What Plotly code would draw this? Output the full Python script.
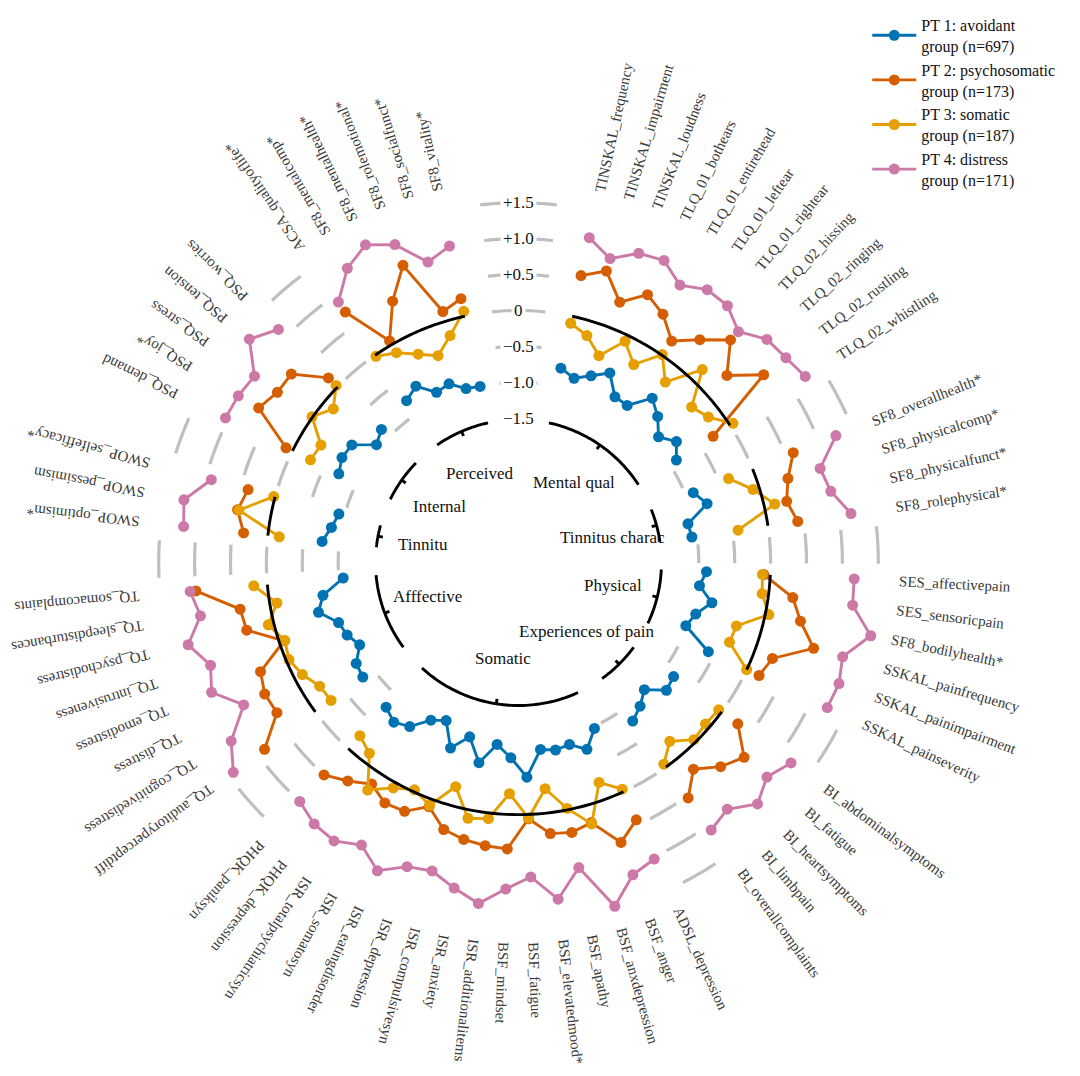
import numpy as np
import plotly.graph_objects as go

FONT = "Liberation Serif, Times New Roman, serif"

# domains clockwise from the top, with their variables
group_names = ["Tinnitus characteristics", "Physical quality of life", "Experiences of pain",
               "Somatic symptoms", "Affective symptoms", "Tinnitus distress",
               "Internal resources", "Perceived stress", "Mental quality of life"]
# inner labels exactly as printed in the original (they sit one domain off)
inner_labels = ["Mental qual", "Tinnitus charac", "Physical", "Experiences of pain",
                "Somatic", "Afffective", "Tinnitu", "Internal", "Perceived"]
group_vars = [
    ["TINSKAL_frequency", "TINSKAL_impairment", "TINSKAL_loudness", "TLQ_01_bothears",
     "TLQ_01_entirehead", "TLQ_01_leftear", "TLQ_01_rightear", "TLQ_02_hissing",
     "TLQ_02_ringing", "TLQ_02_rustling", "TLQ_02_whistling"],
    ["SF8_overallhealth*", "SF8_physicalcomp*", "SF8_physicalfunct*", "SF8_rolephysical*"],
    ["SES_affectivepain", "SES_sensoricpain", "SF8_bodilyhealth*", "SSKAL_painfrequency",
     "SSKAL_painimpairment", "SSKAL_painseverity"],
    ["BI_abdominalsymptoms", "BI_fatigue", "BI_heartsymptoms", "BI_limbpain",
     "BI_overallcomplaints"],
    ["ADSL_depression", "BSF_anger", "BSF_anxdepression", "BSF_apathy", "BSF_elevatedmood*",
     "BSF_fatigue", "BSF_mindset", "ISR_additionalitems", "ISR_anxiety", "ISR_compulsivesyn",
     "ISR_depression", "ISR_eatingdisorder", "ISR_somatosyn", "ISR_totalpsychiatricsyn",
     "PHQK_depression", "PHQK_paniksyn"],
    ["TQ_auditoryperceptdiff", "TQ_cognitivedistress", "TQ_distress", "TQ_emodistress",
     "TQ_intrusiveness", "TQ_psychodistress", "TQ_sleepdisturbances", "TQ_somacomplaints"],
    ["SWOP_optimism*", "SWOP_pessimism", "SWOP_selfefficacy*"],
    ["PSQ_demand", "PSQ_joy*", "PSQ_stress", "PSQ_tension", "PSQ_worries"],
    ["ACSA_qualityoflife*", "SF8_mentalcomp*", "SF8_mentalhealth*", "SF8_rolemotional*",
     "SF8_socialfunct*", "SF8_vitality*"],
]

pt_names = ["PT 1: avoidant<br>group (n=697)", "PT 2: psychosomatic<br>group (n=173)",
            "PT 3: somatic<br>group (n=187)", "PT 4: distress<br>group (n=171)"]
pt_colors = ["#0072B2", "#D55E00", "#E69F00", "#CC79A7"]

# mean z-scores, same order as group_vars
pt1 = [-0.74, -0.83, -0.72, -0.58, -0.84, -0.85, -0.56, -0.70, -0.89, -0.74, -0.89,
       -0.89, -0.76, -1.09, -1.07,
       -0.89, -0.97, -0.76, -0.94, -1.02, -0.59,
       -0.83, -0.79, -1.02, -0.89, -0.79,
       -0.97, -0.74, -0.88, -0.85, -0.89, -0.52, -0.79, -0.96, -0.67, -0.99, -0.76, -1.09,
       -1.00, -0.77, -0.69, -0.78,
       -0.82, -0.85, -1.02, -0.92, -0.87, -0.64, -0.75, -1.06,
       -0.76, -0.86, -0.92,
       -0.72, -0.65, -0.67, -0.94, -0.85,
       -0.77, -0.67, -0.88, -0.84, -0.98, -1.00]
pt2 = [0.58, 0.73, 0.38, 0.63, 0.49, 0.24, 0.49, 0.77, 0.39, 0.79, -0.28,
       0.61, 0.42, 0.32, 0.42,
       -0.09, 0.34, 0.50, 0.77, 0.27, 0.19,
       0.28, 0.64, 0.49, 0.26, 0.53,
       0.43, 0.64, 0.25, 0.32, 0.29, 0.06, 0.48, 0.46, 0.42, 0.35, 0.11, 0.30,
       0.32, 0.19, 0.35, 0.50,
       0.88, 0.45, 0.47, 0.39, -0.07, 0.39, 0.42, 1.00,
       0.34, 0.47, 0.39,
       0.10, 0.70, 0.60, 0.60, 0.18,
       0.73, 0.06, 0.53, 0.93, 0.14, 0.25]
pt3 = [-0.10, -0.21, -0.42, -0.09, -0.32, 0.01, -0.27, 0.20, -0.27, -0.18, 0.05,
       -0.36, -0.09, 0.15, -0.42,
       -0.11, -0.09, 0.05, -0.35, -0.37, 0.00,
       -0.05, -0.07, -0.04, -0.25, -0.05,
       -0.04, -0.25, 0.27, -0.02, -0.34, 0.05, -0.29, 0.08, 0.12, -0.27, 0.09, -0.03,
       0.08, 0.29, -0.14, -0.24,
       -0.27, -0.25, -0.12, -0.04, -0.08, 0.08, -0.10, 0.19,
       -0.16, 0.45, 0.02,
       -0.28, -0.31, 0.01, -0.16, 0.03,
       -0.02, -0.13, -0.29, -0.42, -0.21, 0.07]
pt4 = [1.12, 0.91, 1.11, 1.16, 0.96, 1.11, 1.10, 0.93, 1.14, 1.18, 1.25,
       1.25, 0.89, 0.95, 1.17,
       1.17, 1.18, 1.50, 1.19, 1.26, 1.24,
       1.20, 1.06, 1.22, 0.99, 1.08,
       1.03, 1.12, 1.46, 0.82, 1.21, 0.87, 1.04, 1.27, 1.11, 0.95, 1.00, 1.21,
       0.99, 1.14, 1.11, 1.00,
       1.42, 1.20, 0.80, 1.13, 1.01, 1.23, 0.98, 1.08,
       1.18, 1.23, 0.92,
       1.04, 1.03, 0.99, 1.36, 1.15,
       0.90, 1.23, 1.40, 1.24, 0.86, 1.00]

ring_levels = [1.5, 1.0, 0.5, 0.0, -0.5, -1.0, -1.5]
ring_text = ["+1.5", "+1.0", "+0.5", "0", "\u22120.5", "\u22121.0", "\u22121.5"]
grid_levels = [-1.0, -0.5, 0.0, 0.5, 1.0, 1.5]

# geometry (pixels, figure coordinates; the page adds an 8px body margin)
W, H = 1080, 1076
CX, CY = 510.5, 553.1
R0, PER_UNIT = 252.8, 72.0
R_OUT = 400.0
STEP = 360 / 80.5
V_INNER = -1.52

# angle of every variable: 1 step inside a domain, 2.5 steps between domains
group_theta = []
pos = 2.75
for g in group_vars:
    group_theta.append([(pos + j) * STEP for j in range(len(g))])
    pos += len(g) + 1.5
gap_centres = [0.0] + [(group_theta[i][-1] + group_theta[i + 1][0]) / 2 for i in range(len(group_vars) - 1)]
gap_half = [6.1] + [3.0] * (len(group_vars) - 1)


def to_paper(th, v):
    r = R0 + PER_UNIT * v
    a = np.radians(th)
    return (CX + r * np.sin(a)) / W, 1 - (CY - r * np.cos(a)) / H


# Times / Liberation Serif advance widths (1/1000 em)
tw = {}
for chars, w in [("il jtI", 278), ("fr", 333), ("s", 389), ("J", 389), ("acez", 444),
                 ("bdghknopquvxy0123456789_*", 500), ("FPS", 556), ("ELTZ", 611),
                 ("BCR", 667), ("w", 722), ("ADGHKNOQUVXY", 722), ("m", 778), ("M", 889), ("W", 944)]:
    for c in chars:
        tw[c] = w
tw[" "] = 250


def text_width(s, size):
    return sum(tw.get(c, 500) for c in s) * size / 1000


fig = go.Figure()

# grey dashes of the value rings in the gaps between domains
gr, gt = [], []
for c, hw in zip(gap_centres, gap_half):
    for lv in grid_levels:
        th = np.linspace(c - hw, c + hw, 16)
        gt += list(th) + [None]
        gr += [lv] * len(th) + [None]
fig.add_trace(go.Scatterpolar(r=gr, theta=gt, mode="lines", line=dict(color="#bfbfbf", width=3.2),
                              hoverinfo="skip", showlegend=False))

for name, vals, col in zip(pt_names, [pt1, pt2, pt3, pt4], pt_colors):
    r, t = [], []
    k = 0
    for gi, g in enumerate(group_vars):
        if gi:
            r.append(None)
            t.append(gap_centres[gi])
        for j in range(len(g)):
            r.append(vals[k])
            t.append(group_theta[gi][j])
            k += 1
    fig.add_trace(go.Scatterpolar(r=r, theta=t, mode="lines+markers", name=name,
                                  line=dict(color=col, width=2.9), marker=dict(size=11, color=col),
                                  connectgaps=False))

# black arcs: zero line per domain and inner domain ring with centre ticks
br, bt = [], []
for th_list in group_theta:
    th = np.linspace(th_list[0], th_list[-1], 60)
    for lv in [0.0, V_INNER]:
        bt += list(th) + [None]
        br += [lv] * len(th) + [None]
    mid = (th_list[0] + th_list[-1]) / 2
    bt += [mid, mid, None]
    br += [V_INNER, V_INNER - 5 / PER_UNIT, None]
fig.add_trace(go.Scatterpolar(r=br, theta=bt, mode="lines", line=dict(color="black", width=2.9),
                              hoverinfo="skip", showlegend=False))

annotations = []
# variable labels, radial
for gi, g in enumerate(group_vars):
    for j, lab in enumerate(g):
        th = group_theta[gi][j]
        w = text_width(lab, 15)
        x, y = to_paper(th, (381 + w / 2 - R0) / PER_UNIT)
        ang = th - 90
        if ang > 180:
            ang -= 360
        annotations.append(dict(x=x, y=y, xref="paper", yref="paper", text=lab, showarrow=False,
                                textangle=ang, xanchor="center", yanchor="middle",
                                font=dict(family=FONT, size=15, color="#3a3a3a")))
# inner domain labels
for gi, lab in enumerate(inner_labels):
    mid = (group_theta[gi][0] + group_theta[gi][-1]) / 2
    x, y = to_paper(mid, (97 - R0) / PER_UNIT)
    annotations.append(dict(x=x, y=y, xref="paper", yref="paper", text=lab, showarrow=False,
                            xanchor="center", yanchor="middle",
                            font=dict(family=FONT, size=17, color="#111111")))
# ring values at the top
for lv, txt in zip(ring_levels, ring_text):
    x, y = to_paper(0, lv)
    annotations.append(dict(x=x, y=y, xref="paper", yref="paper", text=txt, showarrow=False,
                            xanchor="center", yanchor="middle", bgcolor="white", borderpad=2,
                            font=dict(family=FONT, size=17, color="#111111")))

fig.update_layout(
    width=W, height=H,
    margin=dict(l=0, r=0, t=0, b=0),
    paper_bgcolor="white",
    polar=dict(
        domain=dict(x=[(CX - R_OUT) / W, (CX + R_OUT) / W], y=[1 - (CY + R_OUT) / H, 1 - (CY - R_OUT) / H]),
        bgcolor="rgba(0,0,0,0)",
        radialaxis=dict(visible=False, range=[-R0 / PER_UNIT, (R_OUT - R0) / PER_UNIT]),
        angularaxis=dict(visible=False, direction="clockwise", rotation=90),
    ),
    legend=dict(x=0.7956, y=1.003, xanchor="left", yanchor="top", bgcolor="rgba(0,0,0,0)",
                itemwidth=44, font=dict(family=FONT, size=16, color="#111111")),
    annotations=annotations,
    font=dict(family=FONT),
)

fig.write_html("out.html")
